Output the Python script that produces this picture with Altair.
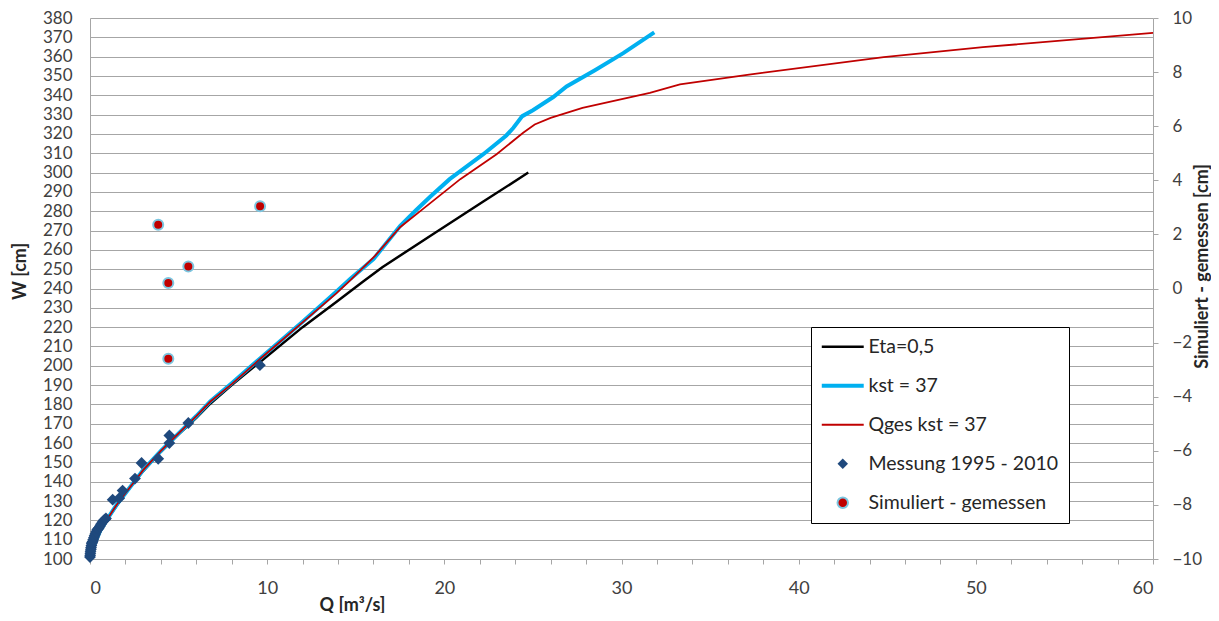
import altair as alt
import pandas as pd

# ---------------- data ----------------
eta_q = [0, 0.3, 0.6, 1.0, 2, 3, 4, 5, 6, 6.8, 8, 9.6, 12.0, 13.9, 15.4, 16.5, 19.2, 22.2, 24.74]
eta_w = [100, 109, 115, 121, 134, 145.5, 155.5, 164.5, 173, 180.5, 190, 202, 220, 233, 243.5, 251, 267.2, 285, 300]

kst_q = [0, 0.3, 0.6, 1.0, 1.5, 2, 3, 4, 5, 6, 6.8, 8, 9.6, 12.0, 13.9, 14.7, 16.0, 17.5, 18.4, 19.2,
         20.3, 22.2, 23.5, 23.9, 24.4, 25.0, 26.15, 26.9, 28.5, 30.1, 31.85]
kst_w = [100, 109, 115, 121, 128, 134, 146, 156, 165, 174, 181.7, 191, 203.8, 222.8, 238.3, 245.1, 255.2, 272.3, 280.5, 287.5,
         296.6, 309.5, 319.2, 323.2, 329.2, 332.3, 339.1, 344.6, 353, 361.8, 372.6]

qges_q = [0, 0.3, 0.6, 1.0, 1.5, 2, 3, 4, 5, 6, 6.8, 8, 9.6, 12.0, 13.9, 14.7, 16.1, 17.5, 18.8, 20.9,
          22.95, 24.45, 25.1, 26.0, 27.8, 31.6, 33.3, 37.2, 44.8, 50.4, 60]
qges_w = [100, 109, 115, 121, 128, 134, 146, 156, 165, 174, 181.5, 190.5, 203.5, 222.5, 237.5, 244.3, 257, 271.7, 281.2, 296.6,
          309.5, 320.6, 324.9, 328.3, 333.5, 341.2, 345.6, 350.7, 359.8, 364.9, 372.3]

mess_q = [0.0, 0.01, 0.02, 0.03, 0.05, 0.06, 0.08, 0.1, 0.12, 0.15, 0.18, 0.22, 0.26, 0.3, 0.35, 0.4, 0.45,
          0.5, 0.56, 0.62, 0.7, 0.78, 0.85, 0.9, 1.28, 1.65, 1.84, 2.54, 2.91, 3.85, 4.48, 4.48, 5.55, 9.59]
mess_w = [101, 102, 103, 104, 105, 106, 107, 108, 108.5, 109, 110, 111, 112, 113, 114, 115, 115.5,
          116, 117, 118, 119, 120, 120.5, 121, 130.7, 131.5, 135.4, 141.6, 149.7, 151.9, 160, 163.9, 170.4, 200.3]

diff_q = [3.85, 4.42, 4.42, 5.55, 9.6]
diff_v = [2.36, 0.2, -2.6, 0.81, 3.04]

series_names = ["Eta=0,5", "kst = 37", "Qges kst = 37", "Messung 1995 - 2010", "Simuliert - gemessen"]
series_fill = ["#000000", "#00b0f0", "#c00000", "#1f497d", "#c00000"]
series_stroke = ["transparent", "transparent", "transparent", "transparent", "#7cc6e0"]
series_shape = ["M-4,-0.24H4V0.24H-4Z", "M-4,-0.38H4V0.38H-4Z", "M-4,-0.17H4V0.17H-4Z", "diamond", "circle"]

GRAY = "#a6a6a6"
FONT = "Lato"

# ---------------- frames ----------------
eta_df = pd.DataFrame({"Q": eta_q, "W": eta_w})
kst_df = pd.DataFrame({"Q": kst_q, "W": kst_w})
qges_df = pd.DataFrame({"Q": qges_q, "W": qges_w})
mess_df = pd.DataFrame({"Q": mess_q, "W": mess_w})
diff_df = pd.DataFrame({"Q": diff_q, "V": diff_v})
leg_df = pd.DataFrame({"series": series_names, "Q": [0] * 5, "W": [100] * 5})

x_scale = alt.Scale(domain=[0, 60], nice=False, zero=False)
yl_scale = alt.Scale(domain=[100, 380], nice=False, zero=False)
yr_scale = alt.Scale(domain=[-10, 10], nice=False, zero=False)

x_axis = alt.Axis(
    values=list(range(0, 61, 2)), tickCount=200, format="d",
    labelExpr="datum.value % 10 == 0 ? datum.label : ''",
    labelOverlap=False, labelFontSize=18,
    grid=False, ticks=True, tickSize=5, tickColor=GRAY, domainColor=GRAY,
    labelPadding=15, title="Q [m³/s]", titleX=262, titleY=46,
    titleAlign="center", titleBaseline="middle", titleAnchor="start",
)
yl_axis = alt.Axis(
    values=list(range(100, 381, 10)), tickCount=200, format="d", labelOverlap=False, labelFontSize=17,
    grid=True, gridColor=GRAY, ticks=False, domainColor=GRAY, labelPadding=18,
    title="W [cm]", titleX=-70, titleY=253,
    titleAlign="center", titleBaseline="middle", titleAnchor="start",
)
yr_axis = alt.Axis(
    orient="right", values=list(range(-10, 11, 2)), tickCount=200, format="d", labelOverlap=False,
    labelFontSize=17, grid=False, ticks=True, tickSize=5, tickColor=GRAY, domainColor=GRAY, labelPadding=14,
    title="Simuliert - gemessen [cm]", titleAngle=270, titleX=49, titleY=248,
    titleAlign="center", titleBaseline="middle", titleAnchor="start",
)

X = alt.X("Q:Q", scale=x_scale, axis=x_axis)
X2 = alt.X("Q:Q", scale=x_scale)
YL = alt.Y("W:Q", scale=yl_scale, axis=yl_axis)
YL2 = alt.Y("W:Q", scale=yl_scale)

eta = alt.Chart(eta_df).mark_line(color="#000000", strokeWidth=2.5).encode(x=X, y=YL)
kst = alt.Chart(kst_df).mark_line(color="#00b0f0", strokeWidth=4).encode(x=X2, y=YL2)
qges = alt.Chart(qges_df).mark_line(color="#c00000", strokeWidth=1.8).encode(x=X2, y=YL2)
mess = alt.Chart(mess_df).mark_point(shape="diamond", filled=True, size=140, opacity=1,
                                     color="#1f497d").encode(x=X2, y=YL2)

leg_props = dict(
    title=None, orient="none", legendX=721, legendY=309, padding=10,
    strokeColor="#000000", fillColor="#ffffff", labelFont=FONT, labelFontSize=19.5,
    labelColor="#262626", labelLimit=400, symbolSize=110, rowPadding=18, symbolOffset=12, labelOffset=16,
    symbolStrokeWidth=2, symbolOpacity=1,
)
legend_layer = alt.Chart(leg_df).mark_point(filled=True, size=110, opacity=1, strokeWidth=2).encode(
    x=X2, y=YL2,
    fill=alt.Fill("series:N", scale=alt.Scale(domain=series_names, range=series_fill), legend=alt.Legend(**leg_props)),
    stroke=alt.Stroke("series:N", scale=alt.Scale(domain=series_names, range=series_stroke), legend=alt.Legend(**leg_props)),
    shape=alt.Shape("series:N", scale=alt.Scale(domain=series_names, range=series_shape), legend=alt.Legend(**leg_props)),
).transform_filter("datum.Q < -1000")

left = alt.layer(eta, kst, qges, mess, legend_layer)

right = alt.Chart(diff_df).mark_point(shape="circle", filled=True, size=100, opacity=1,
                                      fill="#c00000", stroke="#7cc6e0", strokeWidth=2).encode(
    x=X2,
    y=alt.Y("V:Q", scale=yr_scale, axis=yr_axis),
)

chart = alt.layer(left, right).resolve_scale(y="independent").properties(
    width=1063, height=541,
    padding={"left": 82, "top": 10, "right": 58, "bottom": 54},
    autosize=alt.AutoSizeParams(type="none"),
).configure_view(stroke=None).configure_axis(
    labelFont=FONT, labelColor="#404040",
    titleFont=FONT, titleFontSize=18, titleFontWeight="bold", titleColor="#262626",
)

chart.save("out.html", embed_options={"renderer": "svg", "actions": False})
